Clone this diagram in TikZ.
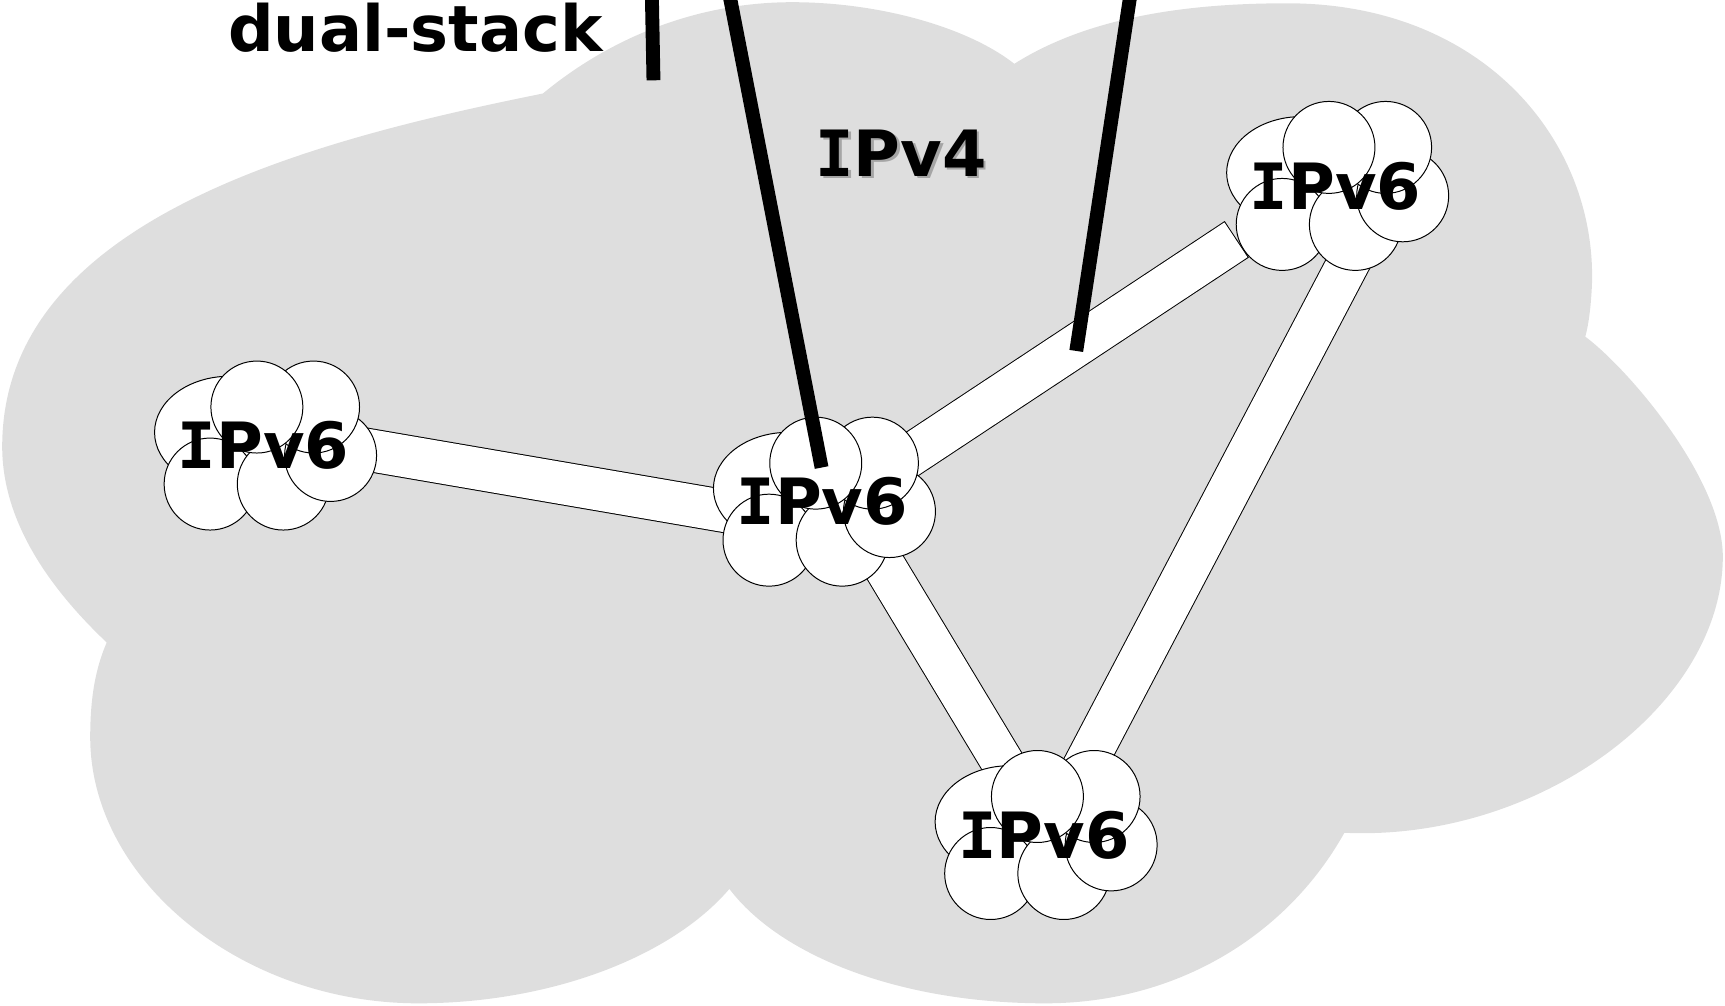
\documentclass[tikz,border=0pt]{standalone}
\usepackage{fontspec}
\setmainfont{DejaVu Sans}
\newfontfamily\slabfont{DejaVu Sans Mono}
\definecolor{cloudgray}{RGB}{222,222,222}
\definecolor{shadowgray}{RGB}{165,165,165}
% capital I with slab serifs, as in the label face
\newcommand\serifI{{\slabfont I}}
% one IPv6 island: a puff of overlapping circles with its label
\newcommand\routercloud[2]{%
  \begin{scope}[shift={(#2)}]
    \filldraw[puff] (-31,-12) ellipse [x radius=68, y radius=51];
    \filldraw[puff] (-48.5,35) circle [radius=41.8];
    \filldraw[puff] (18,35) circle [radius=41.8];
    \filldraw[puff] (61,9) circle [radius=41.8];
    \filldraw[puff] (45.5,-35) circle [radius=41.8];
    \filldraw[puff] (-6,-35) circle [radius=41.8];
    \node[netlabel, anchor=base] (#1) at (0,21.2) {\serifI Pv6};
  \end{scope}}
\begin{document}
\begin{tikzpicture}[x=0.5pt, y=-0.5pt,
  puff/.style={fill=white, draw=black, line width=0.45pt},
  linkedge/.style={line width=19.9pt, draw=black},
  linkbody/.style={line width=19pt, draw=white, shorten >=0.45pt, shorten <=0.45pt},
  wire/.style={line width=6.3pt, draw=black},
  netlabel/.style={font=\bfseries\fontsize{29}{30}\selectfont, inner sep=0pt}]
\useasboundingbox (0,0) rectangle (1568,914);

% IPv4 backbone cloud
\fill[cloudgray] (493.5,85)
  .. controls (560,30) and (640,2) .. (720,2)
  .. controls (800,2) and (880,25) .. (922,58)
  .. controls (990,15) and (1080,3) .. (1170,3)
  .. controls (1350,3) and (1452,130) .. (1447,260)
  .. controls (1446,280) and (1444,295) .. (1441,306)
  .. controls (1481,336) and (1566,436) .. (1566,506)
  .. controls (1566,640) and (1400,765) .. (1222,757)
  .. controls (1170,850) and (1070,912) .. (950,912)
  .. controls (820,912) and (710,870) .. (663,808)
  .. controls (610,870) and (500,912) .. (380,912)
  .. controls (220,912) and (82,800) .. (82,670)
  .. controls (82,630) and (88,605) .. (97,584)
  .. controls (40,530) and (2,470) .. (2,406)
  .. controls (2,200) and (280,128) .. (493.5,85) -- cycle;

% tunnel end points inside the islands
\coordinate (west-port) at (240,392.7);
\coordinate (hub-west) at (760,482);
\coordinate (hub-north) at (750,465);
\coordinate (north-port) at (1124.2,217.5);
\coordinate (hub-south) at (774,465);
\coordinate (south-hub) at (951.6,760);
\coordinate (north-south) at (1262.4,169);
\coordinate (south-north) at (952.6,759);

% tunnels between the islands
\foreach \a/\b in {west-port/hub-west, hub-north/north-port, hub-south/south-hub, north-south/south-north}
  \draw[linkedge] (\a) -- (\b);
\foreach \a/\b in {west-port/hub-west, hub-north/north-port, hub-south/south-hub, north-south/south-north}
  \draw[linkbody] (\a) -- (\b);

% IPv6 islands
\routercloud{v6west}{239.5,405}
\routercloud{v6hub}{747.5,456}
\routercloud{v6north}{1214,169}
\routercloud{v6south}{949,759}

% labels
\node[netlabel, text=shadowgray, anchor=base] (v4shade) at (821.5,162.5) {\serifI Pv4};
\node[netlabel, anchor=base] (v4) at (819,160) {\serifI Pv4};
\node[netlabel, anchor=base west] (ds) at (207,46.5) {dual-stack};

% dual-stack attachments
\coordinate (w1top) at (592.5,-6);
\coordinate (w1end) at (594,73);
\coordinate (w2top) at (662.8,-6);
\coordinate (w2end) at (746.8,425);
\coordinate (w3top) at (1027.7,-6);
\coordinate (w3end) at (978.3,319);
\draw[wire] (w1top) -- (w1end);
\draw[wire] (w2top) -- (w2end);
\draw[wire] (w3top) -- (w3end);
\end{tikzpicture}
\end{document}
